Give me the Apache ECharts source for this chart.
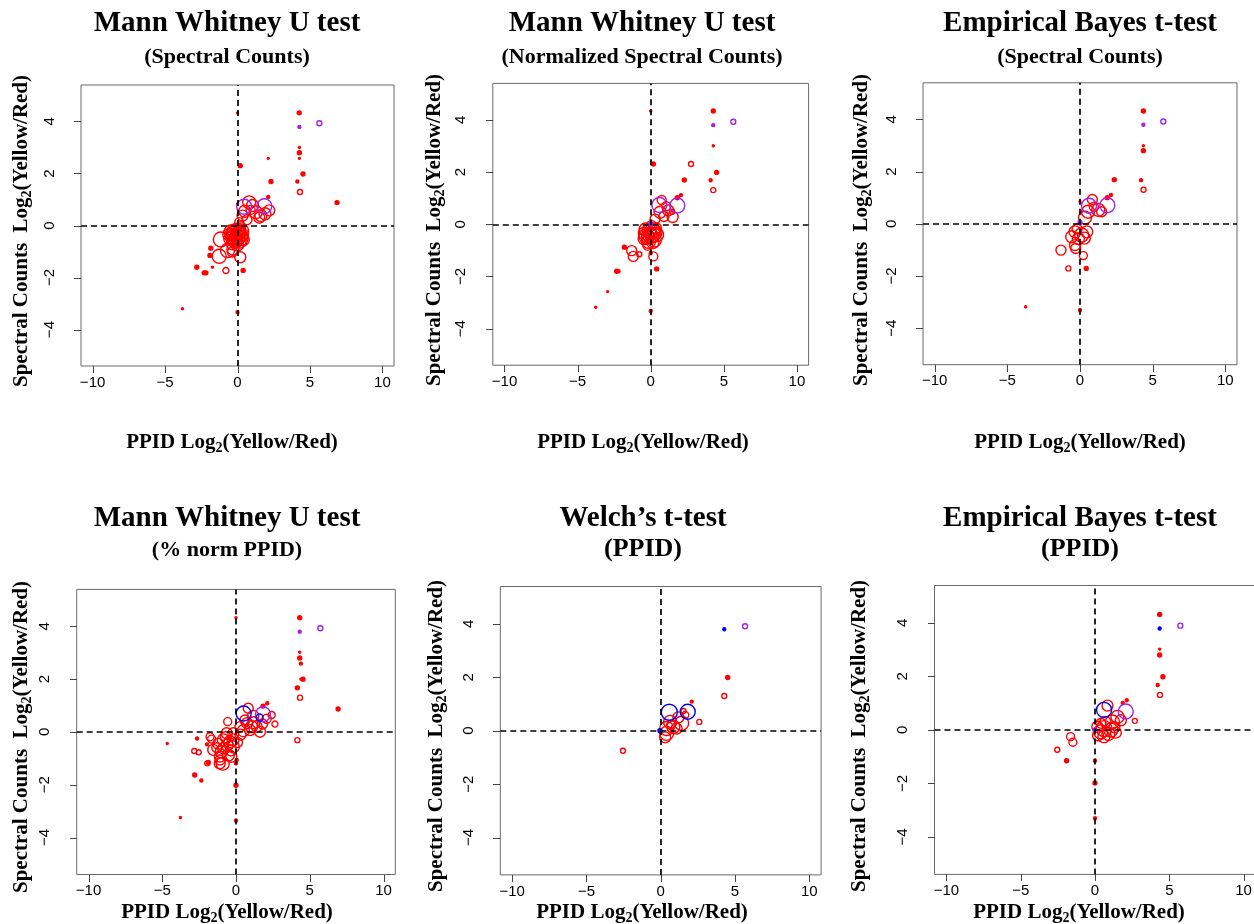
<!DOCTYPE html>
<html><head><meta charset="utf-8">
<script src="https://cdn.jsdelivr.net/npm/echarts@6/dist/echarts.min.js"></script>
<style>html,body{margin:0;padding:0;background:#fff}#c{width:1254px;height:924px}</style>
</head><body><div id="c"></div>
<script>
// ---------- texts ----------
const mainTitles = ['Mann Whitney U test','Mann Whitney U test','Empirical Bayes t-test','Mann Whitney U test','Welch\u2019s t-test','Empirical Bayes t-test'];
const subTitles = ['(Spectral Counts)','(Normalized Spectral Counts)','(Spectral Counts)','(% norm PPID)','(PPID)','(PPID)'];
const xAxisName = 'PPID Log{s|2}(Yellow/Red)';
const yAxisName = 'Spectral Counts  Log{s|2}(Yellow/Red)';
const xTicks = [-10, -5, 0, 5, 10];
const yTicks = [-4, -2, 0, 2, 4];
const xRange = [-10.8, 10.8];
const yRange = [-5.4, 5.4];

// ---------- data: [x, y, symbol diameter] ----------
const p1Red = [[4.26,4.33,4],[0,4.33,2],[4.27,3.0,2],[4.27,2.8,4],[4.27,2.58,2],[2.12,2.58,2],[0.19,2.3,4],[4.52,1.98,4],[2.31,1.69,4],[4.13,1.69,3],[4.31,1.29,5],[6.87,0.88,4],[2.12,1.1,3],[0,0.83,2],
 [0.81,0.89,13],[1.27,0.51,13],[0.35,0.38,11],[1.62,0.38,12],[2.19,0.58,11],[1.04,0.77,12],[0.12,0.13,9],[0.65,0.22,10],[0.5,0.55,12],[1.5,0.3,11],[0.9,0.6,9],[1.9,0.45,12],
 [-0.45,-0.25,14],[-0.2,-0.3,15],[0.05,-0.3,14],[0.3,-0.35,13],[-0.3,-0.45,15],[0,-0.45,15],[0.25,-0.5,14],[-0.5,-0.5,13],[-0.15,-0.6,14],[0.15,-0.62,13],[-0.35,-0.7,12],[0.1,-0.15,12],[-0.1,-0.1,10],[0.35,-0.2,12],[-0.6,-0.35,12],[0,-0.75,12],[0.2,-0.05,10],
 [-0.4,-0.35,13],[0.15,-0.4,15],[-0.25,-0.55,13],[0.4,-0.55,12],[-0.05,-0.35,13],[-0.1,-0.5,14],[0.1,-0.25,13],[-0.3,-0.2,12],
 [-1.15,-0.54,15],[-1.84,-0.87,4],[-1.9,-1.15,4],[-1.26,-1.18,14],[-0.69,-0.96,14],[-0.35,-1.02,10],[-0.32,-0.9,12],[0.19,-1.22,11],[-0.8,-1.73,6],[0.39,-1.73,4],[-2.81,-1.6,4],[-2.3,-1.82,4],[-2.18,-1.82,4],[-1.73,-1.6,2],[-3.8,-3.2,2],[0,-3.33,3]];
const p1Purple = [[0.46,0.72,15],[1.85,0.74,15],[5.65,3.93,5],[4.27,3.79,3]];
const p1Blue = [];

const p2Red = [[4.28,4.34,4],[0,4.34,2],[4.28,3.01,2],[0.18,2.31,4],[2.76,2.31,5],[4.51,1.99,4],[2.3,1.7,4],[4.1,1.69,3],[4.28,1.31,5],[2.07,1.12,3],[1.82,1.02,4],
 [0.75,0.93,9],[0.64,0.46,12],[1.2,0.53,11],[1.5,0.28,11],[1.47,0.48,5],[1.06,0.69,9],[0.3,0.2,10],[0.9,0.3,10],
 [-0.35,-0.2,13],[-0.1,-0.25,14],[0.2,-0.25,13],[0.4,-0.4,14],[-0.3,-0.45,15],[0,-0.45,15],[0.25,-0.6,14],[-0.45,-0.55,12],[-0.15,-0.65,14],[0.15,-0.7,12],[0.05,-0.05,10],[-0.2,-0.8,10],[0.35,-0.15,11],
 [-0.4,-0.35,13],[0.15,-0.4,15],[-0.05,-0.35,13],[0.3,-0.3,14],[-0.2,-0.5,13],
 [-1.8,-0.88,4],[-1.3,-1.01,10],[-1.19,-1.23,10],[-0.78,-1.15,5],[0.18,-1.23,9],[0,-1.1,3],[0.41,-1.71,4],[-2.33,-1.8,4],[-2.2,-1.8,3],[-2.94,-2.58,2],[-3.76,-3.18,2],[0,-3.32,3]];
const p2Purple = [[0.59,0.74,15],[1.82,0.72,15],[4.28,3.8,3],[5.65,3.93,5],[0.02,0.02,4]];
const p2Blue = [];

const p3Red = [[4.36,4.32,4],[4.36,2.99,2],[4.36,2.8,4],[2.36,1.69,4],[4.2,1.67,3],[4.37,1.3,5],[2.13,1.1,3],[1.88,1.0,4],[-3.74,-3.18,2],[0,-3.31,3],[0,0.85,2],
 [0.85,0.93,10],[0.55,0.46,13],[1.26,0.53,13],[1.49,0.46,10],[0.34,0.23,13],[0.95,0.65,9],
 [-0.34,-0.31,12],[0.11,-0.43,14],[0.46,-0.31,12],[-0.57,-0.5,12],[-0.11,-0.57,12],[-0.34,-0.82,11],[-0.3,-0.95,10],[-1.31,-1.01,10],[0.23,-1.22,8],[-0.8,-1.71,5],[0.43,-1.71,4],[0.3,-0.55,12],[-0.2,-0.2,10]];
const p3Purple = [[0.62,0.69,15],[1.88,0.71,15],[4.36,3.79,3],[5.73,3.92,5],[0,0.05,4]];
const p3Blue = [];

const p4Red = [[4.32,4.33,4],[0,4.33,2],[4.32,3.02,2],[4.32,2.8,4],[4.4,2.59,3],[4.54,2.0,4],[4.4,2.0,2],[4.16,1.67,4],[4.34,1.3,5],[6.92,0.87,4],[2.12,1.09,3],[1.83,0.98,4],[4.16,-0.31,5],[2.64,0.3,6],
 [0.83,0.9,10],[1.17,0.61,11],[0.76,0.33,11],[0.27,0.2,10],[1.4,0.2,11],[1.63,0.01,11],[0.95,0.07,11],[2.42,0.64,7],[2.08,0.5,9],[1.2,0.35,12],[0.5,0.05,12],[1.8,0.3,10],[0.6,0.45,10],[1.05,0.2,12],[0.3,-0.1,11],
 [-0.18,-0.05,11],[-0.63,-0.05,11],[-0.86,-0.3,12],[-0.41,-0.37,12],[-0.18,-0.56,12],[-0.86,-0.62,11],[-1.54,-0.68,11],[-0.52,-0.87,12],[-1.09,-0.93,11],[-1.76,-0.18,8],[0.05,-1.06,3],[-1.88,-1.16,4],[-1.08,-1.06,10],[-1.65,-0.27,8],[-1.1,-1.19,11],[-0.32,-0.94,11],[-0.56,0.39,8],[-0.2,-0.3,12],[-0.6,-0.5,12],[-1.2,-0.45,11],
 [-0.7,-0.2,11],[-1.0,-0.75,12],[-0.35,-0.7,11],[0.1,-0.4,10],[-1.3,-0.6,10],[-0.9,-1.2,13],
 [-2.64,-0.25,3],[-1.97,-0.47,3],[-2.83,-0.72,5],[-2.53,-0.77,5],[-1.95,-1.19,5],[-2.8,-1.63,4],[-2.35,-1.84,3],[0,-1.19,3],[0,-2.02,4],[0,-3.36,3],[-3.77,-3.24,2],[-4.66,-0.44,2]];
const p4Purple = [[1.83,0.67,15],[4.32,3.8,3],[5.72,3.93,5]];
const p4Blue = [[0.52,0.7,15],[1.6,0.55,7]];

const p5Red = [[4.51,1.99,4],[4.28,1.3,5],[2.09,1.09,3],[2.6,0.33,5],[-2.54,-0.75,5],[1.19,0.5,11],[1.53,0.74,5],[1.65,0.59,7],[1.41,0.28,14],[0.63,0.33,13],[0.4,0.08,14],[0.85,0.14,13],[0.4,-0.1,14],[1.07,0.08,11],[0.7,0.2,9],[0.3,-0.25,11]];
const p5Purple = [[5.68,3.91,5]];
const p5Blue = [[4.28,3.8,3],[-0.05,0,4],[0.58,0.69,16],[1.82,0.71,15]];

const p6Red = [[4.35,4.32,4],[4.35,3.02,2],[4.35,2.8,4],[4.57,1.99,4],[4.22,1.68,3],[4.37,1.31,5],[2.14,1.11,3],[1.87,1.01,3],[2.68,0.34,5],[0.84,0.91,11],[1.51,0.49,13],[1.74,0.36,11],[1.17,0.3,14],[0.61,0.05,16],[0.38,-0.07,14],[1.06,0.0,14],[0.16,0.12,11],[0.7,0.3,11],[0.4,0.25,10],[0.9,-0.15,13],[0.2,-0.2,11],[1.3,0.1,11],[0.6,-0.25,12],[1.4,-0.1,11],
 [-1.64,-0.25,8],[-1.49,-0.46,8],[-2.54,-0.74,5],[-1.91,-1.15,4],[0,-1.15,3],[0,-1.98,4],[0,-3.3,3]];
const p6Purple = [[2.07,0.69,15],[5.74,3.9,5],[0,0,4]];
const p6Blue = [[4.35,3.79,3],[0.61,0.75,15]];

const panelsRed = [p1Red,p2Red,p3Red,p4Red,p5Red,p6Red];
const panelsPurple = [p1Purple,p2Purple,p3Purple,p4Purple,p5Purple,p6Purple];
const panelsBlue = [p1Blue,p2Blue,p3Blue,p4Blue,p5Blue,p6Blue];

// ---------- layout (pixels) ----------
const boxes = [
  {l:81, t:85, w:313, h:281},
  {l:492.8, t:83.4, w:315.8, h:281.8},
  {l:923, t:82.8, w:314, h:281.9},
  {l:76.7, t:589.4, w:318.6, h:285.1},
  {l:500.3, t:586.5, w:320.8, h:288.4},
  {l:934.5, t:585.5, w:321, h:288.9}
];
const titlePos = [
  {x:227, y1:24, y2:57, s2:22}, {x:642, y1:24, y2:57, s2:22}, {x:1080, y1:24, y2:57, s2:22},
  {x:227, y1:519, y2:550, s2:22}, {x:643, y1:519, y2:549, s2:26}, {x:1080, y1:519, y2:549, s2:26}
];
const xNamePos = [{x:232,y:443},{x:643,y:443},{x:1080,y:443},{x:227,y:913},{x:642,y:913},{x:1079,y:913}];
const yNamePos = [{x:22,y:231},{x:435,y:230},{x:862,y:230},{x:22,y:737},{x:437,y:736},{x:860,y:736}];

const serif = '"Liberation Serif", "Times New Roman", serif';
const sans = '"Liberation Sans", Arial, sans-serif';
const minus = v => String(v).replace('-', '\u2212');
const subRich = {s: {fontSize: 14, fontWeight: 'bold', fontFamily: serif, verticalAlign: 'bottom', lineHeight: 16, fill: '#000'}};
const TICK = 7;

const grid = [], xAxis = [], yAxis = [], series = [], graphic = [];
boxes.forEach((b, i) => {
  grid.push({left: b.l, top: b.t, width: b.w, height: b.h, show: true, borderColor: '#6a6a6a', borderWidth: 1,
             backgroundColor: 'transparent', containLabel: false, outerBoundsMode: 'none'});
  xAxis.push({type: 'value', gridIndex: i, min: xRange[0], max: xRange[1], position: 'bottom',
    axisLine: {show: false, onZero: false}, splitLine: {show: false}, axisTick: {show: false},
    axisLabel: {show: true, customValues: xTicks, formatter: minus, color: '#000', fontFamily: sans, fontSize: 15, margin: 9}});
  yAxis.push({type: 'value', gridIndex: i, min: yRange[0], max: yRange[1], position: 'left',
    axisLine: {show: false, onZero: false}, splitLine: {show: false}, axisTick: {show: false},
    axisLabel: {show: true, customValues: yTicks, formatter: minus, rotate: 90, color: '#000', fontFamily: sans, fontSize: 15, margin: 24}});
  const mk = (data, col, lines) => {
    const s = {type: 'scatter', xAxisIndex: i, yAxisIndex: i, data: data, symbol: 'circle',
      symbolSize: d => d[2], silent: true, animation: false,
      itemStyle: {color: p => (p.data[2] <= 4 ? col : 'rgba(0,0,0,0)'), borderColor: col, borderWidth: 1.4, opacity: 1}};
    if (lines) {
      s.markLine = {silent: true, animation: false, symbol: ['none', 'none'], label: {show: false},
        lineStyle: {color: '#000', type: [6, 4], width: 1.7},
        data: [{xAxis: 0}, {yAxis: 0}]};
    }
    return s;
  };
  series.push(mk(panelsRed[i], '#ff0000', true));
  series.push(mk(panelsPurple[i], '#a020f0', false));
  series.push(mk(panelsBlue[i], '#0000ff', false));

  const tp = titlePos[i];
  graphic.push({type: 'text', x: tp.x, y: tp.y1, silent: true,
    style: {text: mainTitles[i], fontFamily: serif, fontWeight: 'bold', fontSize: 29, fill: '#000', align: 'center', verticalAlign: 'middle'}});
  graphic.push({type: 'text', x: tp.x, y: tp.y2, silent: true,
    style: {text: subTitles[i], fontFamily: serif, fontWeight: 'bold', fontSize: tp.s2, fill: '#000', align: 'center', verticalAlign: 'middle'}});
  graphic.push({type: 'text', x: xNamePos[i].x, y: xNamePos[i].y, silent: true,
    style: {text: xAxisName, rich: subRich, fontFamily: serif, fontWeight: 'bold', fontSize: 21, lineHeight: 24, fill: '#000', align: 'center', verticalAlign: 'middle'}});
  graphic.push({type: 'text', x: yNamePos[i].x, y: yNamePos[i].y, rotation: Math.PI / 2, silent: true,
    style: {text: yAxisName, rich: subRich, fontFamily: serif, fontWeight: 'bold', fontSize: 21, lineHeight: 24, fill: '#000', align: 'center', verticalAlign: 'middle'}});
});

const chart = echarts.init(document.getElementById('c'), null, {renderer: 'canvas'});
chart.setOption({backgroundColor: '#fff', animation: false, grid, xAxis, yAxis, series, graphic});

// outward tick marks on the box edges, positioned through the axes' own scales
const tickGraphics = [];
const crisp = v => Math.round(v) + 0.5;
boxes.forEach((b, i) => {
  xTicks.forEach(v => {
    const p = chart.convertToPixel({gridIndex: i}, [v, yRange[0]]);
    if (!p) return;
    const x = crisp(p[0]), y = Math.round(p[1]);
    tickGraphics.push({type: 'line', silent: true, shape: {x1: x, y1: y, x2: x, y2: y + TICK}, style: {stroke: '#444', lineWidth: 1}});
  });
  yTicks.forEach(v => {
    const p = chart.convertToPixel({gridIndex: i}, [xRange[0], v]);
    if (!p) return;
    const x = Math.round(p[0]), y = crisp(p[1]);
    tickGraphics.push({type: 'line', silent: true, shape: {x1: x - TICK, y1: y, x2: x, y2: y}, style: {stroke: '#444', lineWidth: 1}});
  });
});
chart.setOption({graphic: graphic.concat(tickGraphics)});
</script>
</body></html>
